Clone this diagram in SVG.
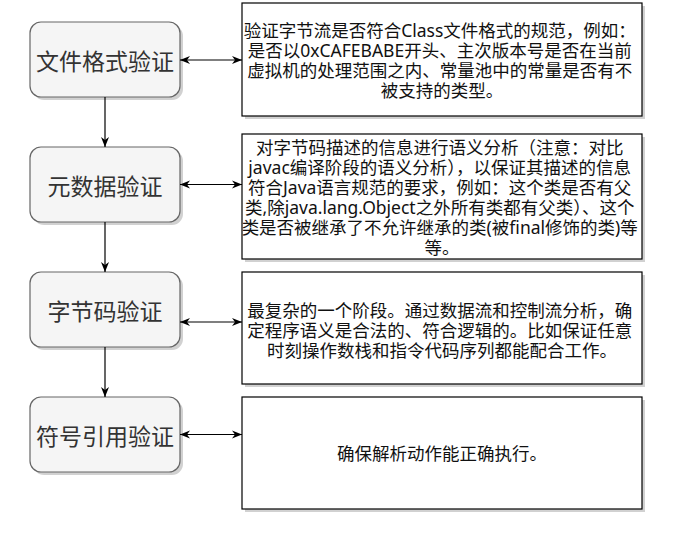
<svg xmlns="http://www.w3.org/2000/svg" width="700" height="541" viewBox="0 0 700 541">
  <style>
    .shadow { fill: #000; opacity: 0.18; }
    .step { fill: #f5f5f5; stroke: #666666; stroke-width: 1.2; }
    .step-label { font-family: "Noto Sans", "Noto Sans CJK SC", sans-serif; font-size: 23px; fill: #333333; text-anchor: middle; dominant-baseline: central; }
    .desc { fill: #ffffff; stroke: #000000; stroke-width: 1.2; }
    .desc-text { font-family: "Noto Sans", "Noto Sans CJK SC", sans-serif; font-size: 17.5px; fill: #111111; text-anchor: middle; dominant-baseline: central; }
    .conn { fill: none; stroke: #000000; stroke-width: 1.2; }
  </style>
  <defs>
    <marker id="arrow" viewBox="0 0 10 10" refX="10" refY="5" markerWidth="10" markerHeight="10" markerUnits="userSpaceOnUse" orient="auto-start-reverse">
      <path d="M0,1 L10,5 L0,9 L3,5 Z" fill="#000000"/>
    </marker>
  </defs>
  <rect width="700" height="541" fill="#ffffff"/>

  <g id="node-file-format">
    <rect class="shadow" x="33" y="25" width="150" height="75" rx="11"/>
    <rect class="step" x="30" y="22" width="150" height="75" rx="11"/>
    <text class="step-label" x="105" y="61">文件格式验证</text>
  </g>
  <g id="node-metadata">
    <rect class="shadow" x="33" y="150" width="150" height="75" rx="11"/>
    <rect class="step" x="30" y="147" width="150" height="75" rx="11"/>
    <text class="step-label" x="105" y="186">元数据验证</text>
  </g>
  <g id="node-bytecode">
    <rect class="shadow" x="33" y="275" width="150" height="75" rx="11"/>
    <rect class="step" x="30" y="272" width="150" height="75" rx="11"/>
    <text class="step-label" x="105" y="311">字节码验证</text>
  </g>
  <g id="node-symbol">
    <rect class="shadow" x="33" y="400" width="150" height="75" rx="11"/>
    <rect class="step" x="30" y="397" width="150" height="75" rx="11"/>
    <text class="step-label" x="105" y="436">符号引用验证</text>
  </g>

  <g id="desc-file-format">
    <rect class="shadow" x="245" y="6" width="400" height="113"/>
    <rect class="desc" x="242" y="3" width="400" height="113"/>
    <text class="desc-text">
      <tspan x="442" y="30">验证字节流是否符合Class文件格式的规范，例如：</tspan>
      <tspan x="442" y="50">是否以0xCAFEBABE开头、主次版本号是否在当前</tspan>
      <tspan x="442" y="70">虚拟机的处理范围之内、常量池中的常量是否有不</tspan>
      <tspan x="442" y="90">被支持的类型。</tspan>
    </text>
  </g>
  <g id="desc-metadata">
    <rect class="shadow" x="245" y="137" width="400" height="125"/>
    <rect class="desc" x="242" y="134" width="400" height="125"/>
    <text class="desc-text">
      <tspan x="442" y="146.5">对字节码描述的信息进行语义分析（注意：对比</tspan>
      <tspan x="442" y="166.5">javac编译阶段的语义分析），以保证其描述的信息</tspan>
      <tspan x="442" y="186.5">符合Java语言规范的要求，例如：这个类是否有父</tspan>
      <tspan x="442" y="206.5">类,除java.lang.Object之外所有类都有父类）、这个</tspan>
      <tspan x="442" y="226.5">类是否被继承了不允许继承的类(被final修饰的类)等</tspan>
      <tspan x="442" y="246.5">等。</tspan>
    </text>
  </g>
  <g id="desc-bytecode">
    <rect class="shadow" x="245" y="275" width="400" height="112"/>
    <rect class="desc" x="242" y="272" width="400" height="112"/>
    <text class="desc-text">
      <tspan x="442" y="309.5">最复杂的一个阶段。通过数据流和控制流分析，确</tspan>
      <tspan x="442" y="329.5">定程序语义是合法的、符合逻辑的。比如保证任意</tspan>
      <tspan x="442" y="349.5">时刻操作数栈和指令代码序列都能配合工作。</tspan>
    </text>
  </g>
  <g id="desc-symbol">
    <rect class="shadow" x="245" y="400" width="400" height="112"/>
    <rect class="desc" x="242" y="397" width="400" height="112"/>
    <text class="desc-text" x="442" y="453">确保解析动作能正确执行。</text>
  </g>

  <g id="connectors">
    <line class="conn" x1="105" y1="97" x2="105" y2="147" marker-end="url(#arrow)"/>
    <line class="conn" x1="105" y1="222" x2="105" y2="272" marker-end="url(#arrow)"/>
    <line class="conn" x1="105" y1="347" x2="105" y2="397" marker-end="url(#arrow)"/>
    <line class="conn" x1="180" y1="60" x2="242" y2="60" marker-start="url(#arrow)" marker-end="url(#arrow)"/>
    <line class="conn" x1="180" y1="184.5" x2="242" y2="184.5" marker-start="url(#arrow)" marker-end="url(#arrow)"/>
    <line class="conn" x1="180" y1="322" x2="242" y2="322" marker-start="url(#arrow)" marker-end="url(#arrow)"/>
    <line class="conn" x1="180" y1="434.5" x2="242" y2="434.5" marker-start="url(#arrow)" marker-end="url(#arrow)"/>
  </g>
</svg>
